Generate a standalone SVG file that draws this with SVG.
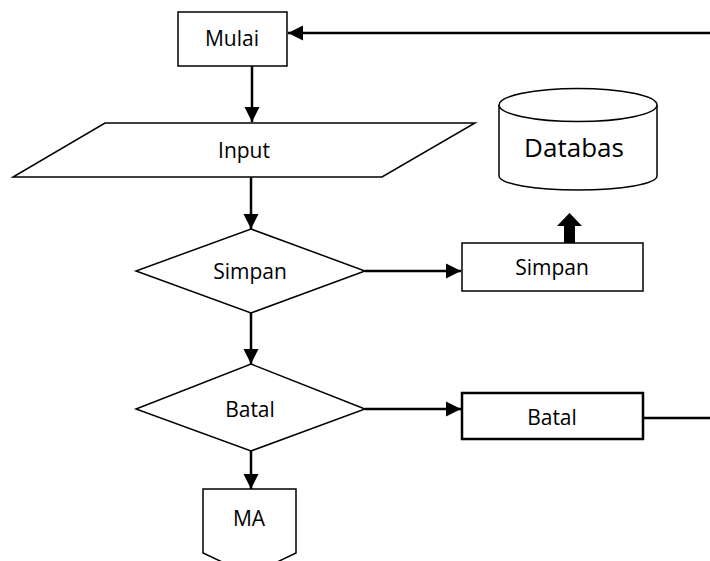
<svg xmlns="http://www.w3.org/2000/svg" width="710" height="561" viewBox="0 0 710 561">
<style>
.shape{fill:#fff;stroke:#000;stroke-width:1.5}
.lbl{font-family:"Open Sans","Noto Sans",sans-serif;font-size:21px;fill:#000;text-anchor:middle}
.con{stroke:#000;stroke-width:2.5;fill:none}
</style>
<defs>
<marker id="ah" markerUnits="userSpaceOnUse" markerWidth="16" markerHeight="16" viewBox="0 0 16 16" refX="15" refY="8" orient="auto">
<path d="M0,0.5 L15,8 L0,15.5 Z" fill="#000"/>
</marker>
</defs>
<rect width="710" height="561" fill="#fff"/>
<g id="connectors">
<line class="con" x1="710" y1="33" x2="288" y2="33" marker-end="url(#ah)"/>
<line class="con" x1="252" y1="66" x2="252" y2="122" marker-end="url(#ah)"/>
<line class="con" x1="251" y1="177" x2="251" y2="229" marker-end="url(#ah)"/>
<line class="con" x1="365" y1="271" x2="461" y2="271" marker-end="url(#ah)"/>
<line class="con" x1="251" y1="313" x2="251" y2="364" marker-end="url(#ah)"/>
<line class="con" x1="365" y1="409" x2="461" y2="409" marker-end="url(#ah)"/>
<line class="con" x1="251" y1="451" x2="251" y2="489" marker-end="url(#ah)"/>
<line class="con" x1="643" y1="418" x2="710" y2="418"/>
<polygon points="564,243 575,243 575,226 582,226 569.5,213 557,226 564,226" fill="#000"/>
</g>
<g id="mulai">
<rect class="shape" x="178" y="12" width="109" height="54"/>
<text class="lbl" x="232" y="46">Mulai</text>
</g>
<g id="input">
<polygon class="shape" points="105,123 475,123 382,177 13,177"/>
<text class="lbl" x="244" y="158">Input</text>
</g>
<g id="database">
<path class="shape" d="M499,105 L499,176 A79,14 0 0 0 657,176 L657,105"/>
<ellipse class="shape" cx="578" cy="105" rx="79" ry="16.5"/>
<text class="lbl" x="574" y="157" style="font-size:26px">Databas</text>
</g>
<g id="simpan-decision">
<polygon class="shape" points="251,229 365,271 251,313 136,271"/>
<text class="lbl" x="250" y="279">Simpan</text>
</g>
<g id="simpan-process">
<rect class="shape" x="462" y="243" width="181" height="48"/>
<text class="lbl" x="552" y="275">Simpan</text>
</g>
<g id="batal-decision">
<polygon class="shape" points="251,364 365,409 251,451 136,409"/>
<text class="lbl" x="250" y="417">Batal</text>
</g>
<g id="batal-process">
<rect class="shape" x="462" y="393" width="181" height="46" style="stroke-width:2.5"/>
<text class="lbl" x="552" y="425">Batal</text>
</g>
<g id="ma">
<path class="shape" d="M250,575 L296,553 L296,489 L203,489 L203,553 Z"/>
<text class="lbl" x="249" y="526">MA</text>
</g>
</svg>
